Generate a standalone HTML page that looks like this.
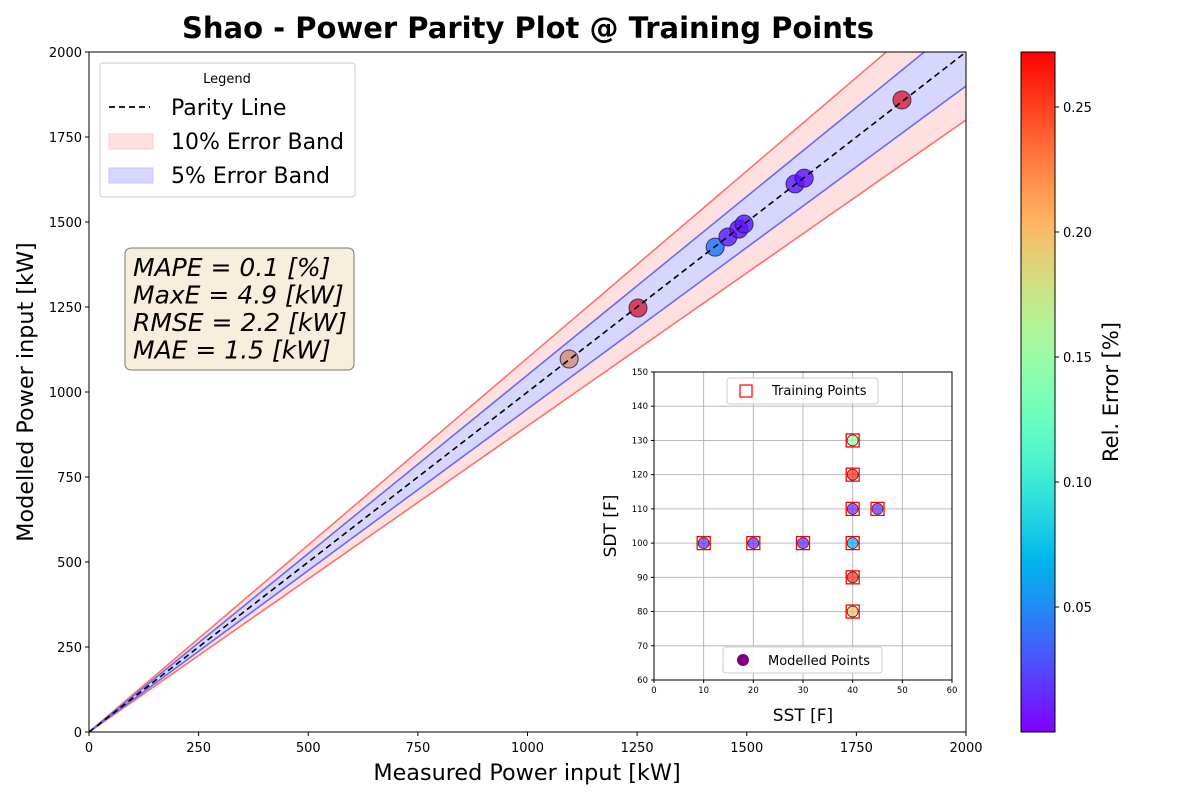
<!DOCTYPE html>
<html><head><meta charset="utf-8"><style>
body{margin:0;background:#fff;}
svg{display:block;font-family:"DejaVu Sans","Liberation Sans",sans-serif;}
</style></head><body>
<svg id="chart" width="1200" height="800" viewBox="0 0 1200 800">
<defs>
<linearGradient id="cbgrad" x1="0" y1="1" x2="0" y2="0"></linearGradient>
<clipPath id="mainclip"><rect x="89" y="52" width="877" height="680"/></clipPath>
</defs>
</svg>
<script>
// ---- data ----
const measured = [1095, 1252, 1428, 1457, 1482, 1494, 1610, 1631, 1854];
const modelled = [1097, 1247, 1426, 1456, 1479, 1494, 1612, 1629, 1859];
const relErr   = [0.21, 0.26, 0.05, 0.01, 0.005, 0.008, 0.01, 0.005, 0.26];
const insetSST = [40, 40, 40, 45, 10, 20, 30, 40, 40, 40];
const insetSDT = [130, 120, 110, 110, 100, 100, 100, 100, 90, 80];
const insetErr = [0.15, 0.26, 0.01, 0.01, 0.01, 0.01, 0.01, 0.06, 0.26, 0.2];
const mainTicks = [0, 250, 500, 750, 1000, 1250, 1500, 1750, 2000];
const insetXTicks = [0, 10, 20, 30, 40, 50, 60];
const insetYTicks = [60, 70, 80, 90, 100, 110, 120, 130, 140, 150];
const cbTicks = [0.05, 0.10, 0.15, 0.20, 0.25];
const statsLines = ["MAPE = 0.1 [%]", "MaxE = 4.9 [kW]", "RMSE = 2.2 [kW]", "MAE = 1.5 [kW]"];

const NS = "http://www.w3.org/2000/svg";
const svg = document.getElementById('chart');
function el(tag, attrs, parent, text){
  const e = document.createElementNS(NS, tag);
  for (const k in attrs) e.setAttribute(k, attrs[k]);
  if (text !== undefined) e.textContent = text;
  (parent || svg).appendChild(e);
  return e;
}
const X0=89, X1=966, Y0=732, Y1=52;
const sx = v => X0 + (v/2000)*(X1-X0);
const sy = v => Y0 - (v/2000)*(Y0-Y1);
const CBMIN=0, CBMAX=0.272;
function rainbow(t){
  t=Math.max(0,Math.min(1,t));
  const r=Math.min(1,Math.abs(2*t-0.5)), g=Math.sin(Math.PI*t), b=Math.cos(Math.PI*t/2);
  return `rgb(${Math.round(r*255)},${Math.round(g*255)},${Math.round(b*255)})`;
}
const cnorm = v => (v-CBMIN)/(CBMAX-CBMIN);

let t = el('text',{x:528,y:38,'font-size':29,'font-weight':'bold','text-anchor':'middle'},svg,'Shao - Power Parity Plot @ Training Points');
 

const g = el('g',{'clip-path':'url(#mainclip)'});
 
// points first (bands overlay them)
measured.forEach((m,i)=>{
  const c = el('circle',{cx:sx(m),cy:sy(modelled[i]),r:9,fill:rainbow(cnorm(relErr[i])),'fill-opacity':0.8,stroke:'#222','stroke-opacity':0.8,'stroke-width':1},g);
   
});
// 10% band strips (outside 5% band)
let p = el('polygon',{points:`${sx(0)},${sy(0)} ${sx(2000)},${sy(2200)} ${sx(2000)},${sy(2100)}`,fill:'rgb(255,0,0)','fill-opacity':0.12},g);
 
p = el('polygon',{points:`${sx(0)},${sy(0)} ${sx(2000)},${sy(1900)} ${sx(2000)},${sy(1800)}`,fill:'rgb(255,0,0)','fill-opacity':0.12},g);
 
p = el('polygon',{points:`${sx(0)},${sy(0)} ${sx(2000)},${sy(2100)} ${sx(2000)},${sy(1900)}`,fill:'rgb(0,0,255)','fill-opacity':0.16},g);
 
[[1.1,'#ff7070'],[0.9,'#ff7070'],[1.05,'#6a6aee'],[0.95,'#6a6aee']].forEach(([m,s])=>{
  const l = el('line',{x1:sx(0),y1:sy(0),x2:sx(2000),y2:sy(2000*m),stroke:s,'stroke-width':1.6},g);
   
});
let pl = el('line',{x1:sx(0),y1:sy(0),x2:sx(2000),y2:sy(2000),stroke:'#000','stroke-width':1.6,'stroke-dasharray':'6,4'},g);
 

let fr = el('rect',{x:X0,y:Y1,width:X1-X0,height:Y0-Y1,fill:'none',stroke:'#000','stroke-width':1});
 
mainTicks.forEach(v=>{
  let a = el('line',{x1:sx(v),y1:Y0,x2:sx(v),y2:Y0+4,stroke:'#000'});
   
  let b = el('text',{x:sx(v),y:Y0+20,'font-size':13,'text-anchor':'middle'},svg,v);
   
  let c = el('line',{x1:X0-4,y1:sy(v),x2:X0,y2:sy(v),stroke:'#000'});
   
  let d = el('text',{x:X0-7,y:sy(v)+5,'font-size':13,'text-anchor':'end'},svg,v);
   
});
t = el('text',{x:527,y:780,'font-size':22.3,'text-anchor':'middle'},svg,'Measured Power input [kW]');
 
t = el('text',{x:33,y:392,'font-size':22.3,'text-anchor':'middle',transform:'rotate(-90 33 392)'},svg,'Modelled Power input [kW]');
 

const lg = el('g',{});
 
el('rect',{x:100,y:63,width:255,height:134,rx:3,fill:'#fff','fill-opacity':0.85,stroke:'#ccc'},lg);
el('text',{x:227,y:83,'font-size':13,'text-anchor':'middle'},lg,'Legend');
el('line',{x1:109,y1:107,x2:150,y2:107,stroke:'#000','stroke-width':1.8,'stroke-dasharray':'6,4'},lg);
el('text',{x:171,y:115,'font-size':22},lg,'Parity Line');
el('rect',{x:109,y:134,width:44,height:15,fill:'#ffe0e0',stroke:'#ffcccc'},lg);
el('text',{x:171,y:149,'font-size':22},lg,'10% Error Band');
el('rect',{x:109,y:168,width:44,height:15,fill:'#d6d6ff',stroke:'#c4c4ff'},lg);
el('text',{x:171,y:183,'font-size':22},lg,'5% Error Band');

const sb = el('g',{});
 
el('rect',{x:125,y:248,width:229,height:122,rx:6,fill:'#f8eedc',stroke:'#777','stroke-width':1},sb);
statsLines.forEach((s,i)=>{
  const tx = el('text',{x:133,y:276+i*27.5,'font-size':25,'font-style':'italic'},sb,s);
   
});

const IX0=654, IX1=952, IY0=680, IY1=372;
const ix = v => IX0 + (v/60)*(IX1-IX0);
const iy = v => IY0 - ((v-60)/90)*(IY0-IY1);
const ig = el('g',{});
 
el('rect',{x:IX0,y:IY1,width:IX1-IX0,height:IY0-IY1,fill:'#fff'},ig);
insetXTicks.forEach(v=>{
  el('line',{x1:ix(v),y1:IY1,x2:ix(v),y2:IY0,stroke:'#b0b0b0','stroke-width':0.9},ig);
  el('line',{x1:ix(v),y1:IY0,x2:ix(v),y2:IY0+3,stroke:'#000'},ig);
  const tx = el('text',{x:ix(v),y:IY0+13,'font-size':8.5,'text-anchor':'middle'},ig,v);
   
});
insetYTicks.forEach(v=>{
  el('line',{x1:IX0,y1:iy(v),x2:IX1,y2:iy(v),stroke:'#b0b0b0','stroke-width':0.9},ig);
  el('line',{x1:IX0-3,y1:iy(v),x2:IX0,y2:iy(v),stroke:'#000'},ig);
  const tx = el('text',{x:IX0-6,y:iy(v)+3,'font-size':8.5,'text-anchor':'end'},ig,v);
   
});
insetSST.forEach((s,i)=>{
  const c = el('circle',{cx:ix(s),cy:iy(insetSDT[i]),r:5.5,fill:rainbow(cnorm(insetErr[i])),'fill-opacity':0.7,stroke:'#333','stroke-width':0.8},ig);
   
  const r = el('rect',{x:ix(s)-6.5,y:iy(insetSDT[i])-6.5,width:13,height:13,fill:'none',stroke:'#f00','stroke-width':1.3},ig);
   
});
el('rect',{x:IX0,y:IY1,width:IX1-IX0,height:IY0-IY1,fill:'none',stroke:'#000'},ig);
let l1 = el('g',{},ig);  
el('rect',{x:727,y:378,width:151,height:26,rx:3,fill:'#fff','fill-opacity':0.85,stroke:'#ccc'},l1);
el('rect',{x:740,y:385,width:12,height:12,fill:'none',stroke:'#f00','stroke-width':1.2},l1);
el('text',{x:772,y:395,'font-size':13},l1,'Training Points');
let l2 = el('g',{},ig);  
el('rect',{x:723,y:647,width:159,height:26,rx:3,fill:'#fff','fill-opacity':0.85,stroke:'#ccc'},l2);
el('circle',{cx:743,cy:660,r:6,fill:'#800080'},l2);
el('text',{x:768,y:665,'font-size':13},l2,'Modelled Points');
t = el('text',{x:803,y:721,'font-size':17,'text-anchor':'middle'},ig,'SST [F]');
 
t = el('text',{x:616,y:526,'font-size':17,'text-anchor':'middle',transform:'rotate(-90 616 526)'},ig,'SDT [F]');
 

const grad = document.getElementById('cbgrad');
for(let i=0;i<=20;i++){ el('stop',{offset:(i/20),'stop-color':rainbow(i/20)},grad); }
const CX0=1021, CX1=1055;
const cy = v => Y0 - (v-CBMIN)/(CBMAX-CBMIN)*(Y0-Y1);
let cb = el('rect',{x:CX0,y:Y1,width:CX1-CX0,height:Y0-Y1,fill:'url(#cbgrad)',stroke:'#000'});
 
cbTicks.forEach(v=>{
  el('line',{x1:CX1,y1:cy(v),x2:CX1+4,y2:cy(v),stroke:'#000'});
  const tx = el('text',{x:CX1+8,y:cy(v)+5,'font-size':13},svg,v.toFixed(2));
   
});
t = el('text',{x:1118,y:392,'font-size':21,'text-anchor':'middle',transform:'rotate(-90 1118 392)'},svg,'Rel. Error [%]');
 
</script>
</body></html>
